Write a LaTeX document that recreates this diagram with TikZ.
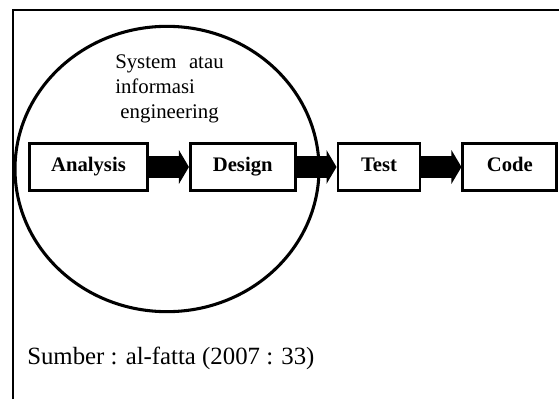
\documentclass[tikz,border=0pt]{standalone}
\usepackage{fontspec}
\setmainfont{Liberation Serif}
\usetikzlibrary{positioning}
\usetikzlibrary{arrows.meta}

\begin{document}
\begin{tikzpicture}[
x=0.75pt, y=-0.75pt,
node distance=30pt,
procbox/.style={rectangle, draw=black, fill=white, line width=2.2pt, minimum height=35.5pt, inner sep=0pt, text height=11pt, text depth=4pt, font=\fontsize{15.5}{19}\selectfont\bfseries},
blockarrow/.style={draw=black, line width=16pt, -{Triangle[width=25pt, length=7.5pt]}},
]
\useasboundingbox (0,0) rectangle (559,399);
%Frame
\draw[line width=1.5pt] (13,399) -- (13,10) -- (559,10);

%Circle
\draw[line width=2.3pt] (167,169) ellipse [x radius=114pt, y radius=107pt];
\node[anchor=north west, inner sep=0pt, align=left, font=\fontsize{15.6}{19}\selectfont] (sielabel) at (115,54)
  {System\hspace{0.6em}atau\\informasi\\\hspace{0.25em}engineering};

%Nodes
\node[procbox, minimum width=88.5pt, anchor=west] (analysis) at (28,167) {Analysis};
\node[procbox, minimum width=78.5pt]  (design) [right=of analysis] {Design};
\node[procbox, minimum width=61.5pt]  (test)   [right=of design]   {Test};
\node[procbox, minimum width=70.5pt]  (code)   [right=of test]     {Code};

%Lines
\draw[blockarrow] (analysis) -- (design);
\draw[blockarrow] (design) -- (test);
\draw[blockarrow] (test) -- (code);

%Source
\node[anchor=west, inner sep=0pt, font=\fontsize{18.6}{22}\selectfont] (sumber) at (27,358) {Sumber : al-fatta (2007 : 33)};
\end{tikzpicture}
\end{document}
